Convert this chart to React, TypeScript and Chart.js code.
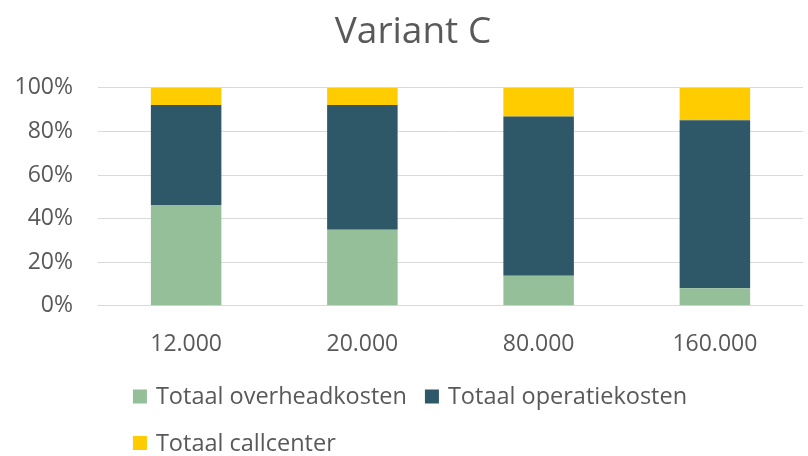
import React, { useEffect, useRef } from "react";
import { Chart, registerables } from "chart.js";

Chart.register(...registerables);

const categories = ["12.000", "20.000", "80.000", "160.000"];
const overheadkosten = [46.3, 34.9, 13.8, 8.0];
const operatiekosten = [45.8, 57.2, 73.1, 77.2];
const callcenter = [7.9, 7.9, 13.1, 14.8];
const seriesLabels = ["Totaal overheadkosten", "Totaal operatiekosten", "Totaal callcenter"];
const yTicks = [0, 20, 40, 60, 80, 100];

const TEXT = "#595959";
const FONT = "'Open Sans', 'Noto Sans', sans-serif";

const titleShiftPlugin = {
  id: "titleShift",
  afterLayout(chart: any) {
    const t = chart.titleBlock;
    if (t) {
      t.left += 23;
    }
  },
};

const legendPlugin = {
  id: "customLegend",
  afterDraw(chart: any) {
    const ctx = chart.ctx;
    const ds = chart.data.datasets;
    ctx.save();
    ctx.font = `23.5px ${FONT}`;
    ctx.textBaseline = "middle";
    ctx.textAlign = "left";
    const box = 14;
    const gapBoxText = 9;
    const gapItems = 18;
    const itemW = (i: number) => box + gapBoxText + ctx.measureText(ds[i].label).width;
    const row1W = itemW(0) + gapItems + itemW(1);
    const startX = 410 - row1W / 2;
    const rows = [
      { y: chart.height - 59.5, items: [0, 1] },
      { y: chart.height - 13, items: [2] },
    ];
    rows.forEach((row) => {
      let x = startX;
      row.items.forEach((i) => {
        ctx.fillStyle = ds[i].backgroundColor;
        ctx.fillRect(x, row.y - box / 2, box, box);
        ctx.fillStyle = TEXT;
        ctx.fillText(ds[i].label, x + box + gapBoxText, row.y + 1);
        x += itemW(i) + gapItems;
      });
    });
    ctx.restore();
  },
};

export default function App() {
  const ref = useRef<HTMLCanvasElement | null>(null);

  useEffect(() => {
    if (!ref.current) return;
    const chart = new Chart(ref.current, {
      type: "bar",
      data: {
        labels: categories,
        datasets: [
          { label: seriesLabels[0], data: overheadkosten, backgroundColor: "#94BF98" },
          { label: seriesLabels[1], data: operatiekosten, backgroundColor: "#2E5767" },
          { label: seriesLabels[2], data: callcenter, backgroundColor: "#FFCC00" },
        ],
      },
      options: {
        animation: false,
        responsive: false,
        maintainAspectRatio: false,
        layout: { padding: { left: 0, right: 5, top: 0, bottom: 72.6 } },
        datasets: { bar: { barPercentage: 0.4, categoryPercentage: 1 } },
        plugins: {
          legend: { display: false },
          tooltip: { enabled: false },
          title: {
            display: true,
            text: "Variant C",
            color: TEXT,
            font: { family: FONT, size: 37, weight: "normal" },
            padding: { top: 10, bottom: 33.5 },
          },
        },
        scales: {
          x: {
            stacked: true,
            grid: { display: false, drawTicks: false },
            border: { display: false },
            ticks: { color: TEXT, font: { family: FONT, size: 23 }, padding: 25, maxRotation: 0 },
          },
          y: {
            stacked: true,
            min: 0,
            max: 100,
            afterBuildTicks: (scale: any) => {
              scale.ticks = yTicks.map((v) => ({ value: v }));
            },
            afterFit: (scale: any) => {
              scale.width = 98;
            },
            grid: { color: "#D9D9D9", lineWidth: 1, drawTicks: false },
            border: { display: false },
            ticks: {
              color: TEXT,
              font: { family: FONT, size: 23 },
              padding: 25,
              callback: (v: any) => `${v}%`,
            },
          },
        },
      },
      plugins: [titleShiftPlugin, legendPlugin],
    });
    return () => chart.destroy();
  }, []);

  return (
    <div style={{ position: "fixed", left: 0, top: 0, width: 808, height: 456, background: "#fff" }}>
      <canvas ref={ref} width={808} height={456} style={{ display: "block" }} />
    </div>
  );
}
